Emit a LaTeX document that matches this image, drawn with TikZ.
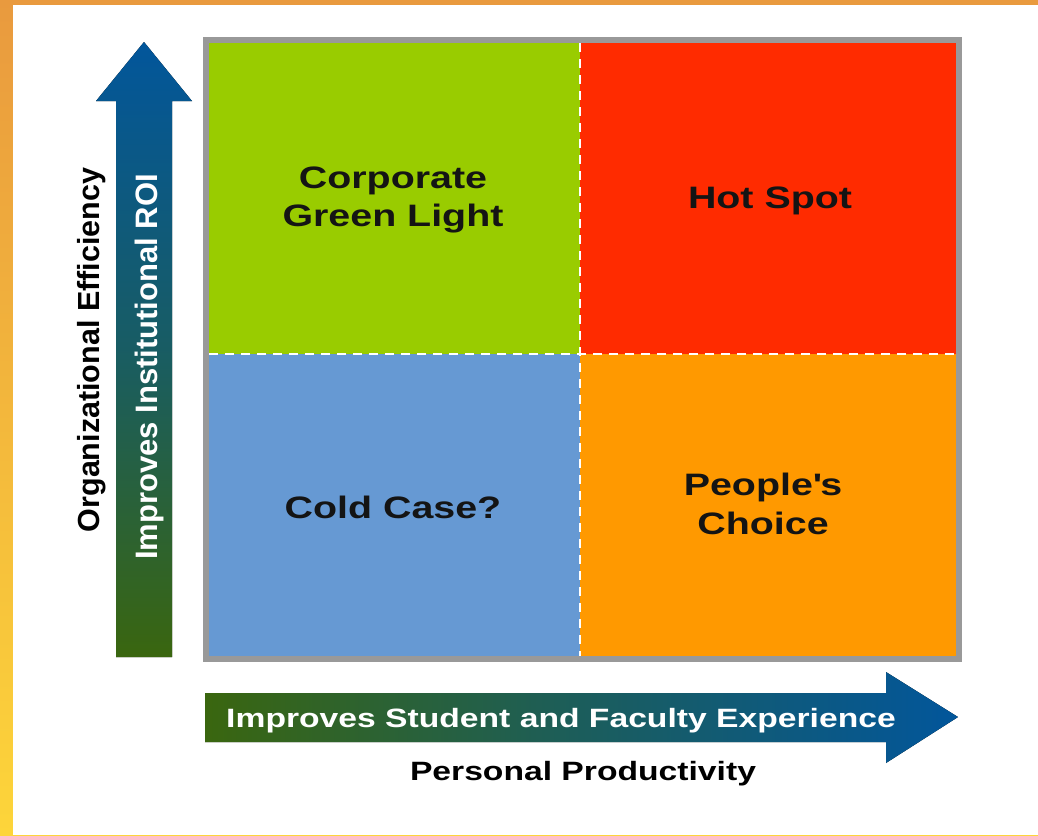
\documentclass[tikz,border=0pt]{standalone}
\usepackage{fontspec}
\setmainfont{Liberation Sans}[FakeStretch=1.27]
\newfontfamily\sidefont{Liberation Sans}
\definecolor{frameorange}{HTML}{E99A3E}
\definecolor{frameyellow}{HTML}{FDD53A}
\definecolor{quadgreen}{HTML}{99CC00}
\definecolor{quadred}{HTML}{FF2B00}
\definecolor{quadblue}{HTML}{6699D3}
\definecolor{quadorange}{HTML}{FF9900}
\definecolor{arrowblue}{HTML}{02569B}
\definecolor{arrowgreen}{HTML}{3A660F}
\definecolor{bordergray}{HTML}{999999}
\begin{document}
\begin{tikzpicture}[x=1pt,y=-1pt,
    quadlabel/.style={inner sep=0pt, align=center, text=black!92,
        font=\fontsize{31}{38.5}\selectfont\bfseries},
    axislabel/.style={inner sep=0pt, anchor=base,
        font=\fontsize{26.5}{30}\selectfont\bfseries},
    sidelabel/.style={inner sep=0pt, anchor=base, rotate=90,
        font=\sidefont\fontsize{31}{34}\selectfont\bfseries}]
    \useasboundingbox (0,0) rectangle (1038,835);
    % frame
    \fill[top color=frameorange, bottom color=frameyellow] (0,0) rectangle (1038,835);
    \fill[white] (13,5) rectangle (1038,835);
    % matrix corners
    \coordinate (TL) at (209,43);
    \coordinate (TR) at (956,43);
    \coordinate (BR) at (956,656);
    \coordinate (BL) at (209,656);
    \coordinate (M) at (580,354);
    \fill[quadgreen] (TL) rectangle (M);
    \fill[quadred] (TR) rectangle (M);
    \fill[quadorange] (BR) rectangle (M);
    \fill[quadblue] (BL) rectangle (M);
    \draw[white, line width=2.5pt, dash pattern=on 9pt off 7pt] (M |- TL) -- (M |- BL);
    \draw[white, line width=2.5pt, dash pattern=on 9pt off 7pt] (M -| TL) -- (M -| TR);
    \draw[bordergray, line width=6pt] (206,40) rectangle (959,659);
    \node[quadlabel] (green) at (393,200) {Corporate\\Green Light};
    \node[quadlabel] (red) at (770,201) {Hot Spot};
    \node[quadlabel] (blue) at (393,507) {Cold Case?};
    \node[quadlabel] (orange) at (763,504) {People\textquotesingle s\\Choice};
    % vertical arrow
    \coordinate (v1) at (116,657);
    \coordinate (v2) at (116,101);
    \coordinate (v3) at (96,101);
    \coordinate (v4) at (144,42);
    \coordinate (v5) at (192,101);
    \coordinate (v6) at (172,101);
    \coordinate (v7) at (172,657);
    \fill[top color=arrowblue, bottom color=arrowgreen, middle color=arrowblue!60!arrowgreen]
        (v1) -- (v2) -- (v3) -- (v4) -- (v5) -- (v6) -- (v7) -- cycle;
    % horizontal arrow
    \coordinate (h1) at (205,693);
    \coordinate (h2) at (886,693);
    \coordinate (h3) at (886,672);
    \coordinate (h4) at (958,717);
    \coordinate (h5) at (886,763);
    \coordinate (h6) at (886,742);
    \coordinate (h7) at (205,742);
    \fill[left color=arrowgreen, right color=arrowblue, middle color=arrowgreen!45!arrowblue]
        (h1) -- (h2) -- (h3) -- (h4) -- (h5) -- (h6) -- (h7) -- cycle;
    \node[sidelabel, text=white] (roi) at (157,367) {Improves Institutional ROI};
    \node[sidelabel, text=black, font=\sidefont\fontsize{30.5}{34}\selectfont\bfseries] (orgeff) at (99,350) {Organizational Efficiency};
    \node[axislabel, text=white] (experience) at (561,727) {Improves Student and Faculty Experience};
    \node[axislabel, text=black] (personal) at (583,780) {Personal Productivity};
\end{tikzpicture}
\end{document}
